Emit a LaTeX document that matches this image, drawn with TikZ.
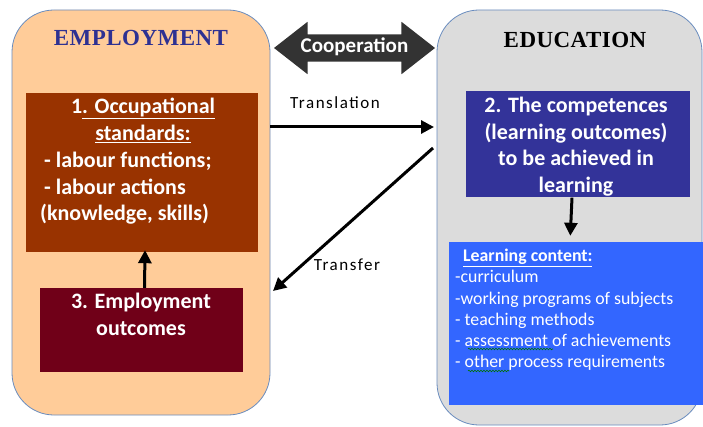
\documentclass[tikz,border=0pt]{standalone}
\usepackage{fontspec}
\setsansfont{Carlito}
\newfontfamily\headfont[LetterSpace=2]{Liberation Serif}
\newfontfamily\linkfont[LetterSpace=9]{Carlito}
\usetikzlibrary{arrows.meta,shapes.arrows,decorations.pathmorphing}
\definecolor{peach}{RGB}{255,204,153}
\definecolor{lightgrey}{RGB}{220,220,220}
\definecolor{frameblue}{RGB}{105,140,190}
\definecolor{rust}{RGB}{153,51,0}
\definecolor{wine}{RGB}{112,0,24}
\definecolor{indigo}{RGB}{51,51,153}
\definecolor{brightblue}{RGB}{51,102,255}
\definecolor{coopgrey}{RGB}{51,51,51}
\definecolor{titleblue}{RGB}{46,49,146}
\tikzset{
	panel/.style={draw=frameblue,line width=0.8pt,rounded corners=42pt,inner sep=0pt},
	boxtext/.style={text=white,font=\sffamily\bfseries\fontsize{22}{26.5}\selectfont,inner sep=0pt},
	headtext/.style={font=\headfont\bfseries\fontsize{23}{27}\selectfont},
	linktext/.style={font=\linkfont\fontsize{17}{20}\selectfont},
	flow/.style={line width=3pt,-{Triangle[length=13pt,width=13pt]}},
	typo/.style={draw=green!45!black,line width=0.6pt,decorate,decoration={snake,segment length=3pt,amplitude=0.8pt}}
}
\begin{document}
\begin{tikzpicture}[x=1pt,y=-1pt]
		\useasboundingbox (0,0) rectangle (703,427);
		%\draw[step=10pt,very thin,color=gray] (0,0) grid (703,427);
		\node[panel,fill=peach,minimum width=258pt,minimum height=405pt] (emp) at (141,212.5) {};
		\node[panel,fill=lightgrey,minimum width=265pt,minimum height=415pt] (edu) at (569.5,217.5) {};
		\node[headtext,text=titleblue] (emptitle) at (141,38) {EMPLOYMENT};
		\node[headtext,text=black] (edutitle) at (575,40) {EDUCATION};
		% employment side
		\node[fill=rust,minimum width=232pt,minimum height=159pt] (occ) at (142,172.5) {};
		\node[boxtext,align=center,anchor=north] (occtitle) at (143,98) {1\underline{. Occupational}\\\underline{standards:}};
		\node[boxtext,align=left,anchor=north west] (occlist) at (40,152) {\hspace*{4pt}- labour functions;\\\hspace*{4pt}- labour actions\\(knowledge, skills)};
		\node[fill=wine,minimum width=203pt,minimum height=84pt] (outc) at (141.5,330) {};
		\node[boxtext,align=center,anchor=north] (outctext) at (141,293) {3. Employment\\outcomes};
		% education side
		\node[fill=indigo,minimum width=224pt,minimum height=106pt] (comp) at (578,144.5) {};
		\node[boxtext,align=center,anchor=north] (comptext) at (576,97) {2. The competences\\(learning outcomes)\\to be achieved in\\learning};
		\node[fill=brightblue,minimum width=254pt,minimum height=163pt] (content) at (576,323.5) {};
		\node[text=white,font=\sffamily\fontsize{17.8}{21.2}\selectfont,align=left,anchor=north west,inner sep=0pt] (contentlist) at (455,249) {\hspace*{8pt}\underline{\textbf{Learning content:}}\\-curriculum\\-working programs of subjects\\- teaching methods\\- assessment of achievements\\- other process requirements};
		\draw[typo] (468,349) -- (553,349);
		\draw[typo] (468,371) -- (509,371);
		% links between the two sides
		\node[double arrow,fill=coopgrey,double arrow head extend=12.5pt,double arrow tip angle=76,minimum height=161pt,inner xsep=-25pt,inner ysep=5pt,text height=13pt,text depth=4pt,text=white,font=\sffamily\bfseries\fontsize{21}{25}\selectfont] (coop) at (354.5,48) {Cooperation};
		\coordinate (transA) at (270,127);
		\coordinate (transB) at (434,127);
		\coordinate (xferA) at (433,148);
		\coordinate (xferB) at (273,291);
		\draw[flow] (transA) -- (transB);
		\draw[flow] (xferA) -- (xferB);
		\node[linktext] (translabel) at (335,103) {Translation};
		\node[linktext] (xferlabel) at (347,265) {Transfer};
		\draw[flow,shorten >=-2pt] ([xshift=3pt]outc.north) -- ([xshift=3pt]occ.south);
		\draw[flow,shorten >=6pt] ([xshift=-6pt]comp.south) -- ([xshift=-6pt]content.north);
\end{tikzpicture}
\end{document}
